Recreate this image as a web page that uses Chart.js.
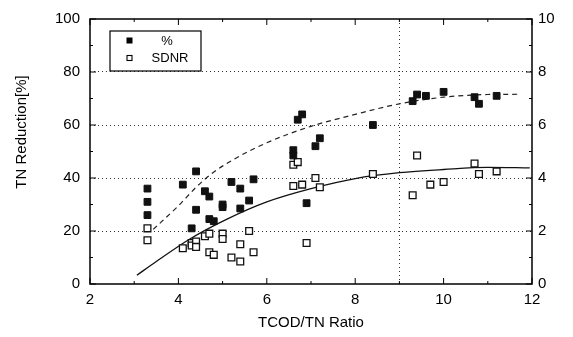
<!DOCTYPE html>
<html lang="en">
<head>
<meta charset="UTF-8">
<title>TN Reduction vs TCOD/TN Ratio</title>
<script src="https://cdn.jsdelivr.net/npm/chart.js"></script>
<style>
  html, body { margin: 0; padding: 0; background: #fff; }
  #wrap { width: 573px; height: 337px; }
</style>
</head>
<body>
<div id="wrap"><canvas id="tnChart" width="573" height="337"></canvas></div>
<script>
// TN reduction (%) - filled squares, left axis
const pctX = [3.3, 3.3, 3.3, 4.1, 4.4, 4.3, 4.4, 4.6, 4.7, 4.7, 4.8, 5.0, 5.0, 5.2, 5.4, 5.4, 5.6, 5.7,
              6.6, 6.6, 6.7, 6.8, 6.9, 7.1, 7.2, 8.4, 9.3, 9.4, 9.6, 10.0, 10.7, 10.8, 11.2];
const pctY = [36, 31, 26, 37.5, 42.5, 21, 28, 35, 33, 24.5, 23.7, 30, 29, 38.5, 36, 28.5, 31.5, 39.5,
              50.5, 48.5, 62, 64, 30.5, 52, 55, 60, 69, 71.5, 71, 72.5, 70.5, 68, 71];

// SDNR - open squares, right axis
const sdnrX = [3.3, 3.3, 4.1, 4.3, 4.3, 4.4, 4.4, 4.6, 4.7, 4.7, 4.8, 5.0, 5.0, 5.2, 5.4, 5.4, 5.6, 5.7,
               6.6, 6.7, 6.6, 6.8, 6.9, 7.1, 7.2, 8.4, 9.3, 9.4, 9.7, 10.0, 10.7, 10.8, 11.2];
const sdnrY = [2.1, 1.65, 1.35, 1.55, 1.45, 1.6, 1.4, 1.8, 1.9, 1.2, 1.1, 1.9, 1.7, 1.0, 0.85, 1.5, 2.0, 1.2,
               4.5, 4.6, 3.7, 3.75, 1.55, 4.0, 3.65, 4.15, 3.35, 4.85, 3.75, 3.85, 4.55, 4.15, 4.25];

// fitted curves
const pctFitX = [3.43, 4.0, 4.4, 4.75, 5.25, 6.0, 7.0, 8.0, 9.0, 10.0, 11.0, 11.7];
const pctFitY = [20.6, 29.5, 36.5, 41.6, 47, 53.3, 59.5, 64, 68, 70.5, 71.5, 71.6];
const sdnrFitX = [3.06, 3.5, 4.26, 5.1, 6.0, 7.0, 8.0, 9.0, 10.0, 11.0, 11.95];
const sdnrFitY = [0.33, 0.85, 1.7, 2.45, 3.1, 3.6, 3.98, 4.2, 4.32, 4.4, 4.38];

const xTicks = [2, 4, 6, 8, 10, 12];
const leftTicks = [0, 20, 40, 60, 80, 100];
const rightTicks = [0, 2, 4, 6, 8, 10];

const FONT = "'Liberation Sans', Arial, sans-serif";

function pts(xs, ys) {
  return xs.map((x, i) => ({ x: x, y: ys[i] }));
}

// frame, inward ticks, y title and legend box
const framePlugin = {
  id: 'frame',
  afterDraw(chart) {
    const ctx = chart.ctx;
    const a = chart.chartArea;
    const sx = chart.scales.x, sy = chart.scales.y;
    ctx.save();
    ctx.strokeStyle = '#000';
    ctx.lineWidth = 1.5;
    ctx.strokeRect(a.left, a.top, a.right - a.left, a.bottom - a.top);

    ctx.lineWidth = 1;
    ctx.beginPath();
    for (let v = 2; v <= 12; v++) {
      const px = sx.getPixelForValue(v);
      const len = v % 2 === 0 ? 6 : 3;
      ctx.moveTo(px, a.bottom); ctx.lineTo(px, a.bottom - len);
      ctx.moveTo(px, a.top); ctx.lineTo(px, a.top + len);
    }
    for (let v = 0; v <= 100; v += 10) {
      const py = sy.getPixelForValue(v);
      const len = v % 20 === 0 ? 6 : 3;
      ctx.moveTo(a.left, py); ctx.lineTo(a.left + len, py);
      ctx.moveTo(a.right, py); ctx.lineTo(a.right - len, py);
    }
    ctx.stroke();

    // y axis title
    ctx.fillStyle = '#000';
    ctx.font = '15px ' + FONT;
    ctx.textAlign = 'center';
    ctx.textBaseline = 'middle';
    ctx.translate(22, 132);
    ctx.rotate(-Math.PI / 2);
    ctx.fillText('TN Reduction[%]', 0, 0);
    ctx.restore();

    // legend
    ctx.save();
    ctx.strokeStyle = '#000';
    ctx.lineWidth = 1.2;
    ctx.strokeRect(110, 31, 91, 40);
    ctx.fillStyle = '#000';
    ctx.fillRect(126.5, 37.5, 6, 6);
    ctx.lineWidth = 1.1;
    ctx.strokeRect(127, 55.5, 5, 5);
    ctx.font = '13px ' + FONT;
    ctx.textAlign = 'center';
    ctx.textBaseline = 'middle';
    ctx.fillText('%', 167, 41);
    ctx.fillText('SDNR', 170, 58.5);
    ctx.restore();
  }
};

const tickFont = { family: FONT, size: 15 };

new Chart(document.getElementById('tnChart'), {
  type: 'scatter',
  data: {
    datasets: [
      {
        label: '%',
        data: pts(pctX, pctY),
        yAxisID: 'y',
        pointStyle: 'rect',
        pointRadius: 4.8,
        backgroundColor: '#111',
        borderColor: '#111',
        borderWidth: 1
      },
      {
        label: 'SDNR',
        data: pts(sdnrX, sdnrY),
        yAxisID: 'y1',
        pointStyle: 'rect',
        pointRadius: 4.8,
        backgroundColor: '#fff',
        borderColor: '#111',
        borderWidth: 1.3
      },
      {
        label: 'fit %',
        data: pts(pctFitX, pctFitY),
        yAxisID: 'y',
        showLine: true,
        pointRadius: 0,
        borderColor: '#222',
        borderWidth: 1.2,
        borderDash: [5, 4],
        cubicInterpolationMode: 'monotone'
      },
      {
        label: 'fit SDNR',
        data: pts(sdnrFitX, sdnrFitY),
        yAxisID: 'y1',
        showLine: true,
        pointRadius: 0,
        borderColor: '#111',
        borderWidth: 1.3,
        cubicInterpolationMode: 'monotone'
      }
    ]
  },
  options: {
    responsive: false,
    animation: false,
    layout: { padding: { top: 14, left: 0, right: 0, bottom: 0 } },
    plugins: {
      legend: { display: false },
      tooltip: { enabled: false }
    },
    scales: {
      x: {
        type: 'linear',
        min: 2,
        max: 12,
        afterFit(s) { s.height = 53; },
        border: { display: false, dash: [1, 3] },
        grid: {
          drawTicks: false,
          lineWidth: 1,
          color: (c) => (c.tick && c.tick.value === 9 ? '#333' : 'rgba(0,0,0,0)')
        },
        ticks: {
          stepSize: 1,
          autoSkip: false,
          maxRotation: 0,
          padding: 7,
          color: '#000',
          font: tickFont,
          callback: (v) => (xTicks.includes(v) ? String(v) : '')
        },
        title: {
          display: true,
          text: 'TCOD/TN Ratio',
          color: '#000',
          font: { family: FONT, size: 15 },
          padding: { top: 8, bottom: 5 }
        }
      },
      y: {
        position: 'left',
        min: 0,
        max: 100,
        afterFit(s) { s.width = 90; },
        border: { display: false, dash: [1, 3] },
        grid: {
          drawTicks: false,
          lineWidth: 1,
          color: (c) => (c.tick && c.tick.value > 0 && c.tick.value < 100 ? '#333' : 'rgba(0,0,0,0)')
        },
        ticks: {
          stepSize: 20,
          padding: 10,
          color: '#000',
          font: tickFont,
          callback: (v) => (leftTicks.includes(v) ? String(v) : '')
        }
      },
      y1: {
        position: 'right',
        min: 0,
        max: 10,
        afterFit(s) { s.width = 41; },
        border: { display: false },
        grid: { display: false, drawTicks: false },
        ticks: {
          stepSize: 2,
          padding: 6,
          color: '#000',
          font: tickFont,
          callback: (v) => (rightTicks.includes(v) ? String(v) : '')
        }
      }
    }
  },
  plugins: [framePlugin]
});
</script>
</body>
</html>
